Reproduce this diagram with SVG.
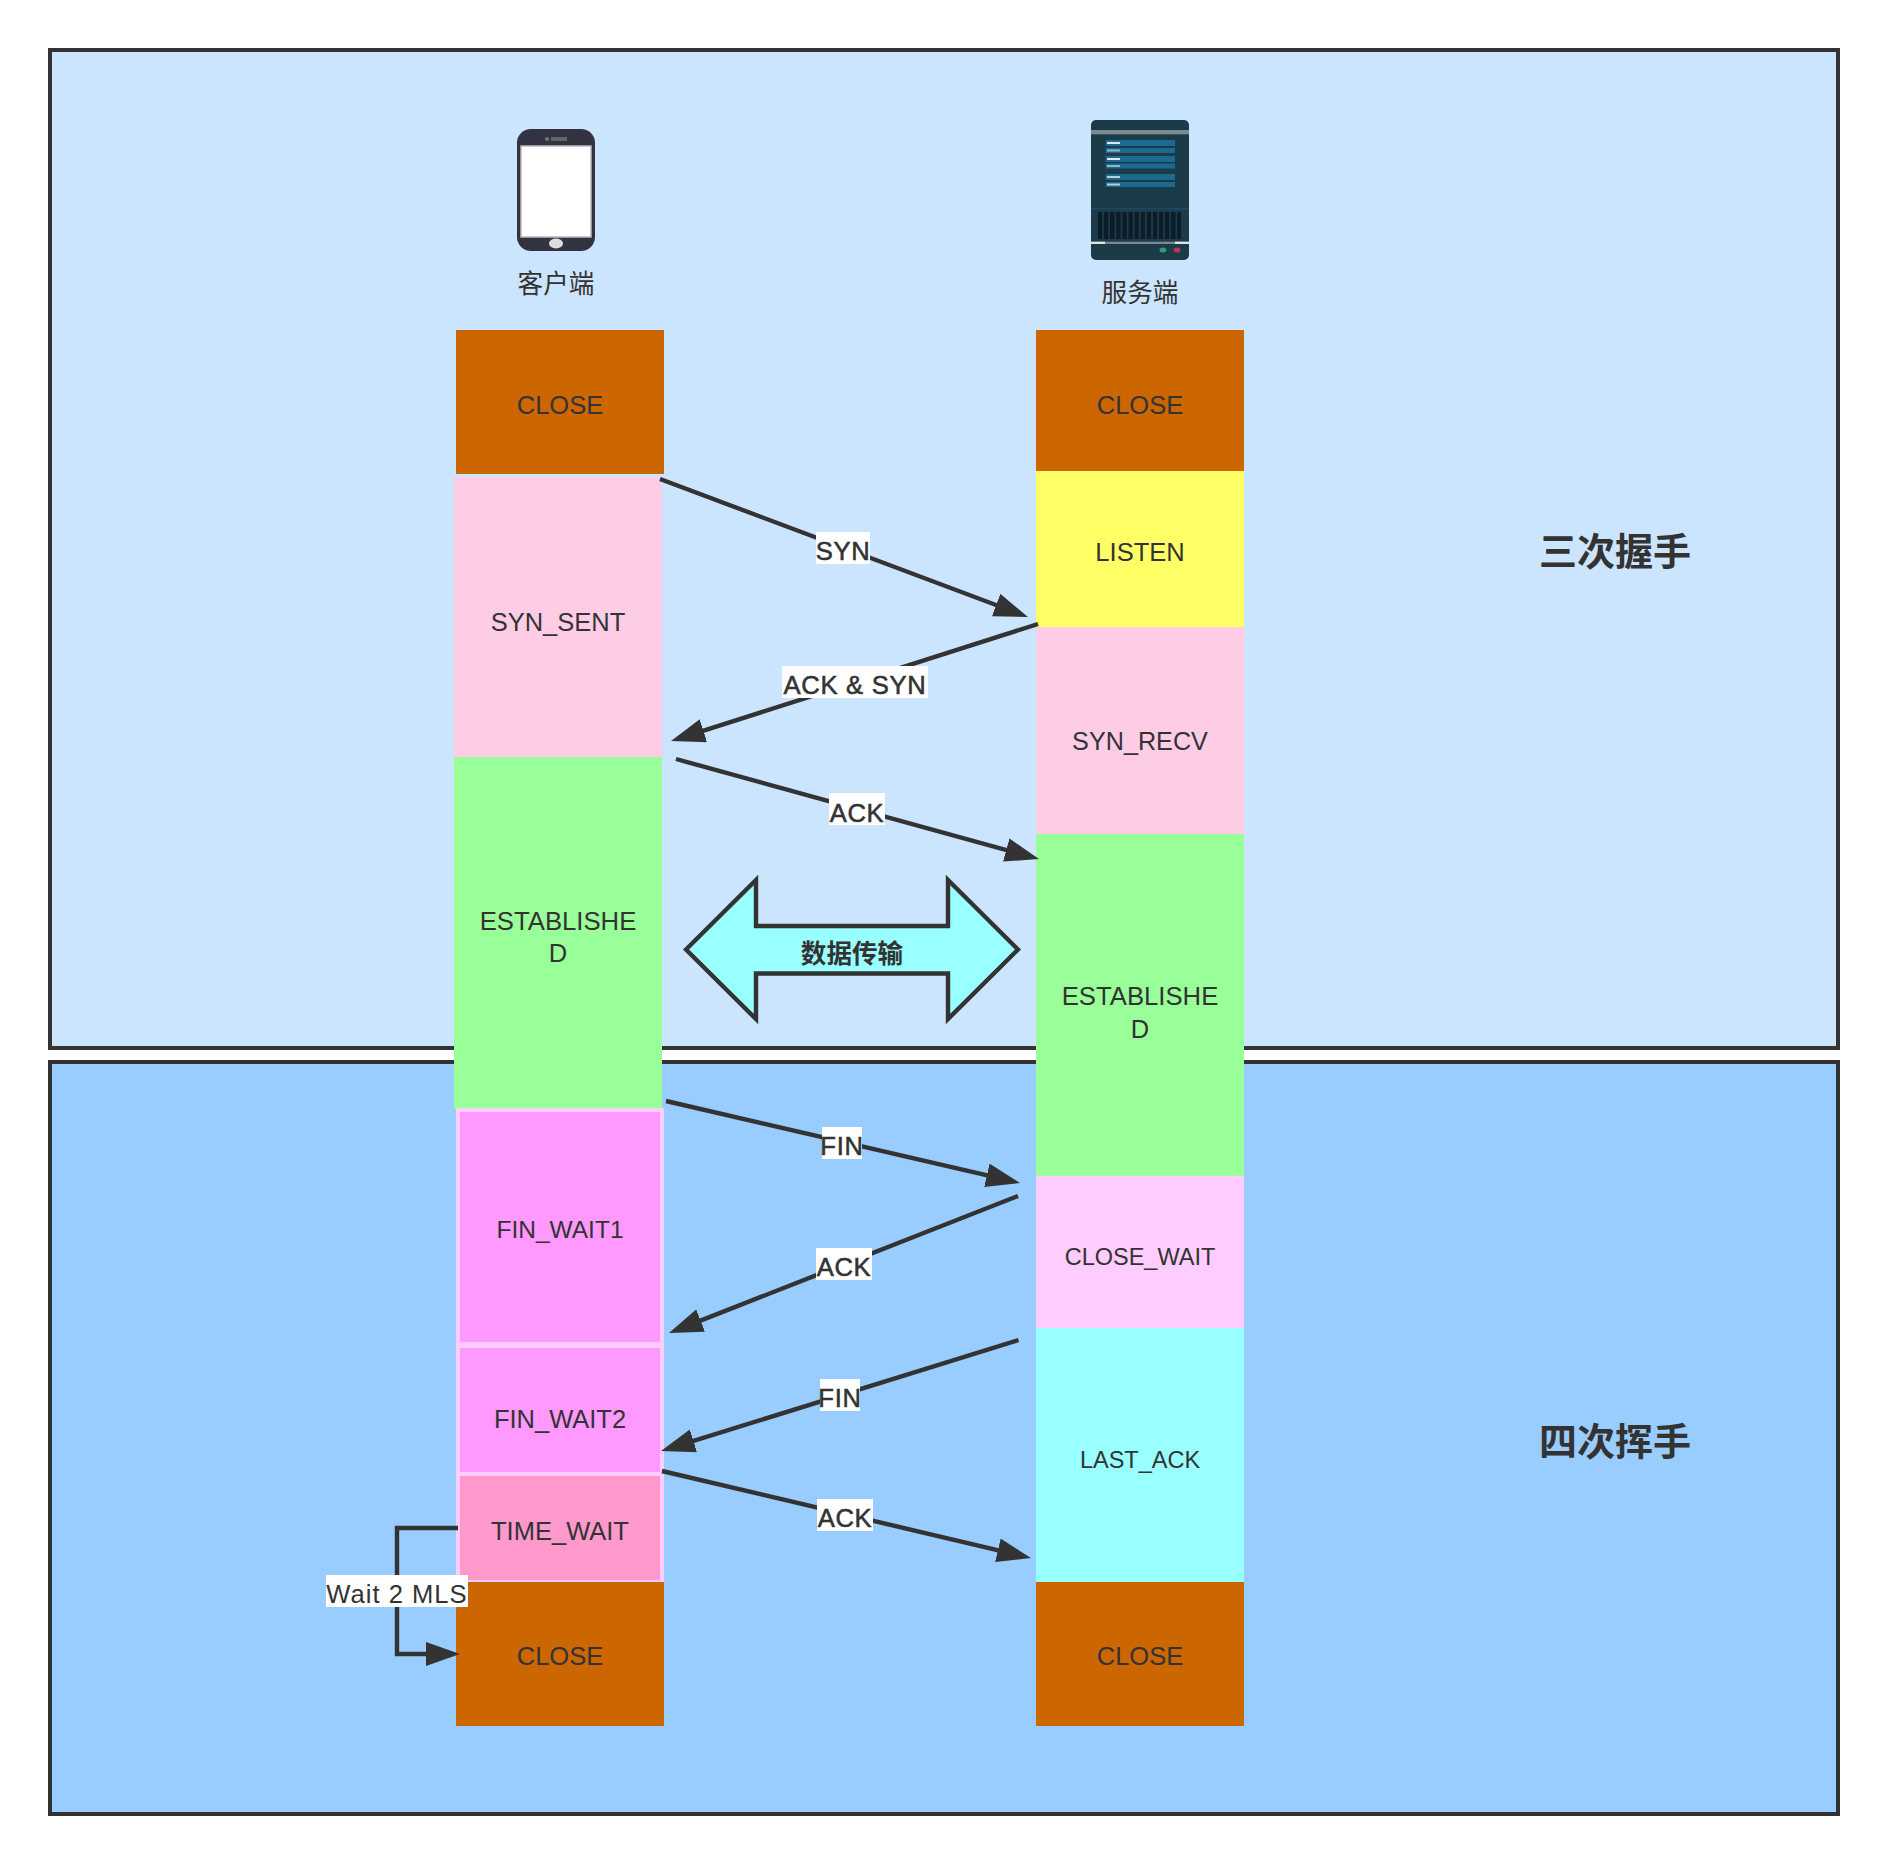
<svg xmlns="http://www.w3.org/2000/svg" width="1888" height="1864" viewBox="0 0 1888 1864">
<style>
text{font-family:"Liberation Sans","Noto Sans CJK SC",sans-serif;fill:#333;text-anchor:middle}
.st{font-size:25.5px}
.sm{font-size:23.5px}
.lb{font-size:25.6px;stroke:#333;stroke-width:.55px;letter-spacing:.7px}
.cj{font-family:"Noto Sans CJK SC",sans-serif;font-size:25.6px}
.hd{font-family:"Noto Sans CJK SC",sans-serif;font-size:38px;font-weight:700}
.panel{stroke:#333;stroke-width:4}
.pk{fill:#FF99FF;stroke:#FFCCFF;stroke-width:4}
.ln{fill:none;stroke:#333;stroke-width:4.400;marker-end:url(#ah)}
.bg{fill:#fff}
.row{fill:#1F6A92}
.rl{fill:#DCE8EE}
</style>
<defs>
<marker id="ah" markerUnits="userSpaceOnUse" markerWidth="35" markerHeight="24" refX="26" refY="12" orient="auto" viewBox="0 0 35 24"><path d="M0 0L34 12L0 24Z" fill="#333"/></marker>
<pattern id="vent" patternUnits="userSpaceOnUse" x="1098" y="212" width="6.1" height="27"><rect width="6.1" height="27" fill="#1F3A4A"/><rect width="4.2" height="27" fill="#0A1A28"/></pattern>
<filter id="soft" x="-5%" y="-5%" width="110%" height="110%"><feGaussianBlur stdDeviation=".6"/></filter>
</defs>

<g id="panel-handshake"><rect class="panel" x="50" y="50" width="1788" height="998" fill="#CCE5FF"/><text class="hd" x="1615" y="565">三次握手</text></g>
<g id="panel-wave"><rect class="panel" x="50" y="1062" width="1788" height="752" fill="#99CCFF"/><text class="hd" x="1615" y="1455">四次挥手</text></g>

<g id="client-icon">
<g filter="url(#soft)">
<rect x="517" y="129" width="78" height="122" rx="14" fill="#30333F"/>
<rect x="521" y="146" width="70" height="91" fill="#fff" stroke="#B9BAC0" stroke-width="1.500"/>
<circle cx="547" cy="139" r="2" fill="#777"/>
<rect x="551" y="137" width="16" height="4" fill="#666"/>
<ellipse cx="556" cy="243.500" rx="7" ry="5" fill="#DDD"/>
</g>
<text class="cj" x="556" y="293">客户端</text>
</g>
<g id="server-icon">
<g filter="url(#soft)">
<rect x="1091" y="120" width="98" height="140" rx="5" fill="#1F3A4A"/>
<rect x="1091" y="130" width="98" height="4.300" fill="#7A8A92"/>
<rect class="row" x="1105.700" y="140" width="69.300" height="6"/><rect class="row" x="1105.700" y="148" width="69.300" height="5"/>
<rect class="row" x="1105.700" y="156" width="69.300" height="6"/><rect class="row" x="1105.700" y="163.500" width="69.300" height="5"/>
<rect class="row" x="1105.700" y="174" width="69.300" height="6"/><rect class="row" x="1105.700" y="182" width="69.300" height="5"/>
<rect class="rl" x="1107" y="142" width="13" height="2"/><rect class="rl" opacity=".6" x="1107" y="149.500" width="13" height="2"/>
<rect class="rl" x="1107" y="158" width="13" height="2"/><rect class="rl" opacity=".6" x="1107" y="165" width="13" height="2"/>
<rect class="rl" opacity=".8" x="1107" y="176" width="13" height="2"/><rect class="rl" opacity=".8" x="1107" y="183.500" width="13" height="2"/>
<rect x="1091" y="208" width="98" height="1.500" fill="#1A4A64"/>
<rect x="1098" y="212" width="83" height="27" fill="url(#vent)"/>
<rect x="1091" y="241.700" width="98" height="2.300" fill="#7A8A92"/>
<rect x="1091" y="241.700" width="14" height="2.300" fill="#DDE4E8"/><rect x="1175" y="241.700" width="14" height="2.300" fill="#DDE4E8"/>
<ellipse cx="1163" cy="250" rx="3.500" ry="2.500" fill="#2F9E6E"/>
<ellipse cx="1177" cy="250" rx="3.500" ry="2.500" fill="#C0304F"/>
</g>
<text class="cj" x="1140" y="302">服务端</text>
</g>

<g id="c-close1"><rect x="456" y="330" width="208" height="144" fill="#CC6600"/><text class="st" x="560" y="414">CLOSE</text></g>
<g id="c-syn-sent"><rect x="454" y="477" width="208" height="280" fill="#FFCCE6"/><text class="st" x="558" y="631">SYN_SENT</text></g>
<g id="c-established"><rect x="454" y="757" width="208" height="352" fill="#99FF99"/><text class="st" style="font-size:25.7px" x="558" y="930">ESTABLISHE</text><text class="st" x="558" y="962">D</text></g>
<g id="c-fin-wait1"><rect class="pk" x="458" y="1110" width="204" height="234"/><text class="st" style="font-size:24.5px" x="560" y="1238">FIN_WAIT1</text></g>
<g id="c-fin-wait2"><rect class="pk" x="458" y="1346" width="204" height="128"/><text class="st" x="560" y="1428">FIN_WAIT2</text></g>
<g id="c-time-wait"><rect class="pk" style="fill:#FF99CC" x="458" y="1474" width="204" height="108"/><text class="st" x="560" y="1540">TIME_WAIT</text></g>
<g id="c-close2"><rect x="456" y="1582" width="208" height="144" fill="#CC6600"/><text class="st" x="560" y="1665">CLOSE</text></g>

<g id="s-close1"><rect x="1036" y="330" width="208" height="141" fill="#CC6600"/><text class="st" x="1140" y="414">CLOSE</text></g>
<g id="s-listen"><rect x="1036" y="471" width="208" height="156" fill="#FFFF66"/><text class="st" x="1140" y="561">LISTEN</text></g>
<g id="s-syn-recv"><rect x="1036" y="627" width="208" height="207" fill="#FFCCE6"/><text class="st" style="font-size:25.2px" x="1140" y="750">SYN_RECV</text></g>
<g id="s-established"><rect x="1036" y="834" width="208" height="342" fill="#99FF99"/><text class="st" style="font-size:25.7px" x="1140" y="1005">ESTABLISHE</text><text class="st" x="1140" y="1038">D</text></g>
<g id="s-close-wait"><rect x="1036" y="1176" width="208" height="152" fill="#FFCCFF"/><text class="sm" x="1140" y="1265">CLOSE_WAIT</text></g>
<g id="s-last-ack"><rect x="1036" y="1328" width="208" height="254" fill="#99FFFF"/><text class="sm" x="1140" y="1468">LAST_ACK</text></g>
<g id="s-close2"><rect x="1036" y="1582" width="208" height="144" fill="#CC6600"/><text class="st" x="1140" y="1665">CLOSE</text></g>

<g id="data-transfer">
<polygon points="686,949.500 756,880 756,926 948,926 948,880 1018,949.500 948,1019 948,973.500 756,973.500 756,1019" fill="#99FFFF" stroke="#333" stroke-width="4.400"/>
<text class="cj" style="font-weight:700" x="852" y="962.500">数据传输</text>
</g>

<g id="connectors">
<path class="ln" d="M660 479L1020.500 614.200"/>
<path class="ln" d="M1038 624L678.600 738.600"/>
<path class="ln" d="M676 759L1031.300 856.900"/>
<path class="ln" d="M666 1101L1012.200 1181.200"/>
<path class="ln" d="M1018 1196L676.400 1330.100"/>
<path class="ln" d="M1018.500 1340L668.600 1448.600"/>
<path class="ln" d="M662 1471L1023.200 1556.200"/>
<path class="ln" d="M458 1528H397V1654H452"/>
<rect class="bg" x="816" y="532" width="54" height="32"/><text class="lb" x="843" y="560">SYN</text>
<rect class="bg" x="782" y="666" width="146" height="32"/><text class="lb" x="855" y="693.500">ACK &amp; SYN</text>
<rect class="bg" x="829" y="793" width="56" height="32"/><text class="lb" x="857" y="821.500">ACK</text>
<rect class="bg" x="822" y="1127" width="40" height="32"/><text class="lb" x="842" y="1155">FIN</text>
<rect class="bg" x="816" y="1248" width="56" height="32"/><text class="lb" x="844" y="1276">ACK</text>
<rect class="bg" x="820" y="1379" width="40" height="32"/><text class="lb" x="840" y="1407">FIN</text>
<rect class="bg" x="817" y="1499" width="56" height="32"/><text class="lb" x="845" y="1527">ACK</text>
<rect class="bg" x="326" y="1575" width="142" height="32"/><text class="lb" style="stroke:none;letter-spacing:1px" x="397" y="1602.500">Wait 2 MLS</text>
</g>
</svg>
